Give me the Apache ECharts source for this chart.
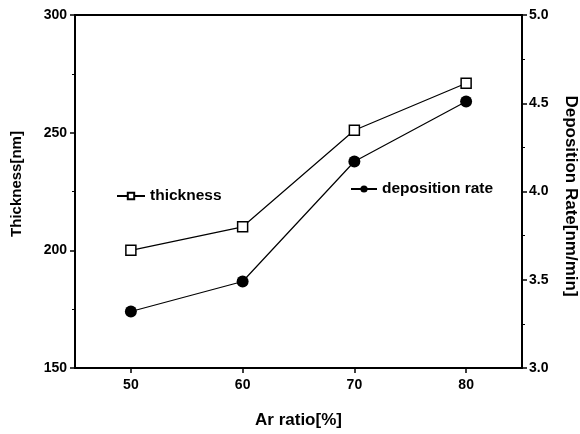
<!DOCTYPE html>
<html>
<head>
<meta charset="utf-8">
<script src="https://cdn.jsdelivr.net/npm/echarts@6/dist/echarts.min.js"></script>
<style>html,body{margin:0;padding:0;background:#fff}#c{width:580px;height:434px}</style>
</head>
<body>
<div id="c"></div>
<script>
const arRatio = [50, 60, 70, 80];
const thickness = [200, 210, 251, 271];
const depositionRate = [3.32, 3.49, 4.17, 4.51];
const xTicks = [50, 60, 70, 80];
const leftTitle = 'Thickness[nm]';
const rightTitle = 'Deposition Rate[nm/min]';
const xTitle = 'Ar ratio[%]';

const font = 'Arial, "Liberation Sans", sans-serif';
const chart = echarts.init(document.getElementById('c'));
const legendText = { fontFamily: font, fontSize: 15.5, fontWeight: 'bold', color: '#000' };
chart.setOption({
  backgroundColor: '#fff',
  animation: false,
  grid: { left: 75, right: 58, top: 15, bottom: 64, show: true, borderColor: '#000', borderWidth: 2, backgroundColor: 'transparent' },
  legend: [
    { data: ['thickness'], left: 111, top: 183, itemWidth: 28, itemHeight: 8, itemGap: 4,
      textStyle: legendText },
    { data: ['deposition rate'], left: 345, top: 176, itemWidth: 26, itemHeight: 9, itemGap: 4,
      textStyle: legendText }
  ],
  graphic: [
    { type: 'text', x: 17, y: 184, rotation: Math.PI / 2,
      style: { text: leftTitle, fontFamily: font, fontSize: 15, fontWeight: 'bold', fill: '#000', align: 'center', verticalAlign: 'middle' } },
    { type: 'text', x: 571, y: 196, rotation: -Math.PI / 2,
      style: { text: rightTitle, fontFamily: font, fontSize: 17, fontWeight: 'bold', fill: '#000', align: 'center', verticalAlign: 'middle' } }
  ],
  xAxis: {
    type: 'value', min: 45, max: 85,
    name: xTitle, nameLocation: 'middle', nameGap: 44,
    nameTextStyle: { fontFamily: font, fontSize: 17, fontWeight: 'bold', color: '#000' },
    axisLine: { show: true, lineStyle: { color: '#000', width: 2 } },
    axisTick: { show: true, length: 5, customValues: xTicks, lineStyle: { color: '#000', width: 1.5 } },
    axisLabel: { customValues: xTicks, margin: 10, fontFamily: font, fontSize: 14, fontWeight: 'bold', color: '#000' },
    splitLine: { show: false }
  },
  yAxis: [
    {
      type: 'value', min: 150, max: 300, interval: 50, position: 'left',
      axisLine: { show: true, lineStyle: { color: '#000', width: 2 } },
      axisTick: { show: true, length: 5, lineStyle: { color: '#000', width: 1.5 } },
      minorTick: { show: true, splitNumber: 2, length: 3, lineStyle: { color: '#000', width: 1 } },
      axisLabel: { margin: 8, fontFamily: font, fontSize: 14, fontWeight: 'bold', color: '#000' },
      splitLine: { show: false }
    },
    {
      type: 'value', min: 3.0, max: 5.0, interval: 0.5, position: 'right',
      axisLine: { show: true, lineStyle: { color: '#000', width: 2 } },
      axisTick: { show: true, length: 5, lineStyle: { color: '#000', width: 1.5 } },
      minorTick: { show: true, splitNumber: 2, length: 3, lineStyle: { color: '#000', width: 1 } },
      axisLabel: { margin: 7, fontFamily: font, fontSize: 14, fontWeight: 'bold', color: '#000',
        formatter: v => v.toFixed(1) },
      splitLine: { show: false }
    }
  ],
  series: [
    {
      name: 'thickness', type: 'line', yAxisIndex: 0,
      data: arRatio.map((x, i) => [x, thickness[i]]),
      symbol: 'rect', symbolSize: 10,
      lineStyle: { color: '#000', width: 1.2 },
      itemStyle: { color: '#fff', borderColor: '#000', borderWidth: 1.5 }
    },
    {
      name: 'deposition rate', type: 'line', yAxisIndex: 1,
      data: arRatio.map((x, i) => [x, depositionRate[i]]),
      symbol: 'circle', symbolSize: 12,
      lineStyle: { color: '#000', width: 1.2 },
      itemStyle: { color: '#000', borderColor: '#000', borderWidth: 0 }
    }
  ]
});
</script>
</body>
</html>
